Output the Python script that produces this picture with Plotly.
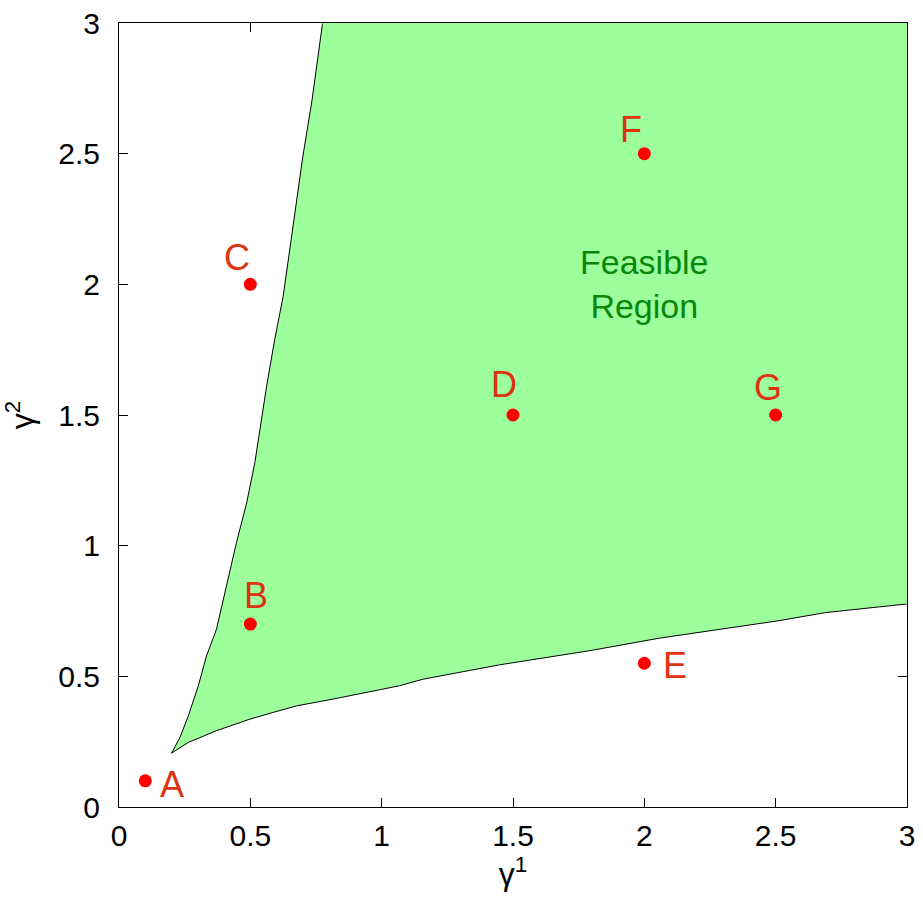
import plotly.graph_objects as go

# Boundary of the feasible region
lower_x = [0.20, 0.264, 0.371, 0.498, 0.587, 0.676, 0.815, 1.068, 1.157, 1.449, 1.791, 2.057, 2.513, 2.69, 3.0]
lower_y = [0.206, 0.247, 0.292, 0.336, 0.362, 0.387, 0.413, 0.464, 0.489, 0.544, 0.598, 0.646, 0.713, 0.744, 0.777]
upper_x = [0.20, 0.232, 0.264, 0.302, 0.333, 0.371, 0.397, 0.447, 0.486, 0.517, 0.562, 0.593, 0.625, 0.70, 0.735, 0.775]
upper_y = [0.206, 0.266, 0.349, 0.464, 0.578, 0.68, 0.795, 1.011, 1.164, 1.317, 1.61, 1.79, 1.954, 2.49, 2.705, 3.0]
corner_x = [3.0]
corner_y = [3.0]

# Labelled points
point_names = ["A", "B", "C", "D", "E", "F", "G"]
point_x = [0.1, 0.5, 0.5, 1.5, 2.0, 2.0, 2.5]
point_y = [0.1, 0.7, 2.0, 1.5, 0.55, 2.5, 1.5]

tick_vals = [0, 0.5, 1, 1.5, 2, 2.5, 3]
tick_text = ["0", "0.5", "1", "1.5", "2", "2.5", "3"]

# label offsets in pixels (style)
label_shift = {"A": (27, -4), "B": (6, 29), "C": (-13, 27), "D": (-9, 31),
               "E": (31, -2), "F": (-13, 24), "G": (-8, 28)}

poly_x = lower_x + corner_x + upper_x[::-1]
poly_y = lower_y + corner_y + upper_y[::-1]

FONT = "Liberation Sans, Arial"

fig = go.Figure()
fig.add_trace(go.Scatter(
    x=poly_x, y=poly_y, mode="lines", fill="toself",
    fillcolor="#9CFF9C", line=dict(color="black", width=1),
    hoverinfo="skip", showlegend=False))
# hide black edge on the right and top sides by overdrawing green
fig.add_trace(go.Scatter(
    x=[lower_x[-1]] + corner_x + [upper_x[-1]],
    y=[lower_y[-1]] + corner_y + [upper_y[-1]],
    mode="lines", line=dict(color="#9CFF9C", width=3),
    hoverinfo="skip", showlegend=False))
fig.add_trace(go.Scatter(
    x=point_x, y=point_y, mode="markers",
    marker=dict(color="#FF0000", size=13, line=dict(width=0)),
    showlegend=False))

for n, x, y in zip(point_names, point_x, point_y):
    dx, dy = label_shift[n]
    fig.add_annotation(x=x, y=y, text=n, showarrow=False, xshift=dx, yshift=dy,
                       font=dict(family=FONT, size=36, color="#DD3311"))

fig.add_annotation(x=2.0, y=2.0, text="Feasible<br>Region", showarrow=False,
                   font=dict(family=FONT, size=34, color="#0A870A"))

axis_common = dict(
    range=[0, 3], tickvals=tick_vals, ticktext=tick_text, automargin=False,
    showgrid=False, zeroline=False, showline=True, linecolor="black", linewidth=1,
    mirror="ticks", ticks="inside", ticklen=9, tickcolor="black", tickwidth=1,
    layer="below traces",
    tickfont=dict(family=FONT, size=30, color="black"),
)
fig.update_xaxes(**axis_common, ticklabelstandoff=2,
                 title=dict(text="γ<sup>1</sup>", standoff=10,
                            font=dict(family=FONT, size=32, color="black")))
fig.update_yaxes(**axis_common, ticklabelstandoff=12,
                 title=dict(text="γ<sup>2</sup>", standoff=16,
                            font=dict(family=FONT, size=32, color="black")))

fig.update_layout(
    width=923, height=899,
    margin=dict(l=119, r=16, t=23, b=92),
    plot_bgcolor="white", paper_bgcolor="white",
    showlegend=False,
)
fig.write_html("out.html")
